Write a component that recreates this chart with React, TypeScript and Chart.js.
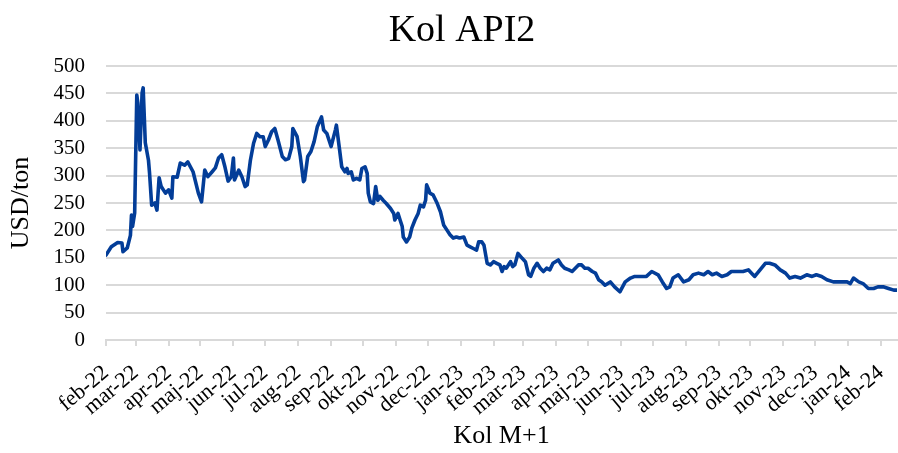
import React, { useEffect, useRef } from "react";
import { Chart, registerables } from "chart.js";

Chart.register(...registerables);

const TITLE = "Kol API2";
const Y_TITLE = "USD/ton";
const X_TITLE = "Kol M+1";

const monthTickDates = [
  "2022-02-01", "2022-03-01", "2022-04-01", "2022-05-01", "2022-06-01", "2022-07-01",
  "2022-08-01", "2022-09-01", "2022-10-01", "2022-11-01", "2022-12-01", "2023-01-01",
  "2023-02-01", "2023-03-01", "2023-04-01", "2023-05-01", "2023-06-01", "2023-07-01",
  "2023-08-01", "2023-09-01", "2023-10-01", "2023-11-01", "2023-12-01", "2024-01-01",
  "2024-02-01",
];
const monthTickLabels = [
  "feb-22", "mar-22", "apr-22", "maj-22", "jun-22", "jul-22", "aug-22", "sep-22",
  "okt-22", "nov-22", "dec-22", "jan-23", "feb-23", "mar-23", "apr-23", "maj-23",
  "jun-23", "jul-23", "aug-23", "sep-23", "okt-23", "nov-23", "dec-23", "jan-24",
  "feb-24",
];
const axisStart = "2022-02-01";
const axisEnd = "2024-02-16";

const dates = [
  "2022-02-01", "2022-02-06", "2022-02-12", "2022-02-16", "2022-02-17", "2022-02-21",
  "2022-02-24", "2022-02-25", "2022-02-26", "2022-02-28", "2022-03-02", "2022-03-03",
  "2022-03-05", "2022-03-07", "2022-03-08", "2022-03-10", "2022-03-13", "2022-03-14",
  "2022-03-16", "2022-03-19", "2022-03-21", "2022-03-23", "2022-03-25", "2022-03-29",
  "2022-04-01", "2022-04-04", "2022-04-05", "2022-04-09", "2022-04-12", "2022-04-16",
  "2022-04-19", "2022-04-24", "2022-04-29", "2022-05-02", "2022-05-05", "2022-05-08",
  "2022-05-12", "2022-05-15", "2022-05-18", "2022-05-21", "2022-05-24", "2022-05-27",
  "2022-05-30", "2022-06-01", "2022-06-02", "2022-06-06", "2022-06-09", "2022-06-12",
  "2022-06-14", "2022-06-17", "2022-06-20", "2022-06-23", "2022-06-26", "2022-06-29",
  "2022-07-01", "2022-07-04", "2022-07-07", "2022-07-10", "2022-07-13", "2022-07-17",
  "2022-07-20", "2022-07-23", "2022-07-26", "2022-07-27", "2022-07-31", "2022-08-03",
  "2022-08-06", "2022-08-07", "2022-08-10", "2022-08-13", "2022-08-16", "2022-08-19",
  "2022-08-23", "2022-08-25", "2022-08-28", "2022-08-30", "2022-09-01", "2022-09-05",
  "2022-09-06", "2022-09-09", "2022-09-11", "2022-09-14", "2022-09-16", "2022-09-17",
  "2022-09-20", "2022-09-22", "2022-09-25", "2022-09-28", "2022-09-30", "2022-10-03",
  "2022-10-05", "2022-10-06", "2022-10-08", "2022-10-11", "2022-10-13", "2022-10-15",
  "2022-10-17", "2022-10-20", "2022-10-23", "2022-10-27", "2022-10-30", "2022-10-31",
  "2022-11-03", "2022-11-05", "2022-11-07", "2022-11-08", "2022-11-11", "2022-11-14",
  "2022-11-16", "2022-11-19", "2022-11-22", "2022-11-24", "2022-11-27", "2022-11-29",
  "2022-11-30", "2022-12-02", "2022-12-03", "2022-12-06", "2022-12-10", "2022-12-13",
  "2022-12-16", "2022-12-19", "2022-12-22", "2022-12-25", "2022-12-28", "2022-12-31",
  "2023-01-04", "2023-01-07", "2023-01-10", "2023-01-13", "2023-01-16", "2023-01-18",
  "2023-01-21", "2023-01-23", "2023-01-26", "2023-01-29", "2023-02-01", "2023-02-04",
  "2023-02-07", "2023-02-09", "2023-02-11", "2023-02-13", "2023-02-17", "2023-02-19",
  "2023-02-21", "2023-02-24", "2023-02-28", "2023-03-03", "2023-03-06", "2023-03-08",
  "2023-03-11", "2023-03-14", "2023-03-17", "2023-03-20", "2023-03-23", "2023-03-26",
  "2023-03-29", "2023-04-03", "2023-04-06", "2023-04-09", "2023-04-13", "2023-04-16",
  "2023-04-19", "2023-04-22", "2023-04-25", "2023-04-28", "2023-05-01", "2023-05-05",
  "2023-05-08", "2023-05-11", "2023-05-14", "2023-05-17", "2023-05-22", "2023-05-26",
  "2023-05-31", "2023-06-05", "2023-06-10", "2023-06-14", "2023-06-19", "2023-06-25",
  "2023-06-30", "2023-07-06", "2023-07-10", "2023-07-14", "2023-07-17", "2023-07-20",
  "2023-07-25", "2023-07-30", "2023-08-04", "2023-08-08", "2023-08-13", "2023-08-18",
  "2023-08-22", "2023-08-26", "2023-08-30", "2023-09-04", "2023-09-09", "2023-09-13",
  "2023-09-20", "2023-09-24", "2023-09-29", "2023-10-02", "2023-10-05", "2023-10-10",
  "2023-10-15", "2023-10-19", "2023-10-24", "2023-10-29", "2023-11-03", "2023-11-07",
  "2023-11-12", "2023-11-17", "2023-11-23", "2023-11-28", "2023-12-02", "2023-12-07",
  "2023-12-12", "2023-12-18", "2023-12-24", "2023-12-31", "2024-01-03", "2024-01-06",
  "2024-01-11", "2024-01-15", "2024-01-20", "2024-01-25", "2024-01-29", "2024-02-03",
  "2024-02-08", "2024-02-13", "2024-02-16",
];

const prices = [
  155, 170, 178, 177, 161, 168,
  191, 228, 207, 232, 447, 432,
  347, 451, 460, 360, 328, 305,
  246, 250, 237, 296, 280, 268,
  274, 259, 298, 297, 323, 319,
  325, 307, 268, 252, 310, 298,
  307, 314, 332, 338, 316, 290,
  298, 332, 292, 310, 298, 280,
  283, 328, 359, 377, 371, 371,
  353, 365, 380, 386, 365, 335,
  329, 331, 353, 386, 371, 335,
  289, 292, 335, 344, 362, 389,
  407, 383, 377, 365, 353, 383,
  392, 347, 316, 307, 313, 304,
  307, 292, 295, 292, 313, 316,
  304, 268, 252, 249, 280, 255,
  262, 255, 249, 240, 231, 219,
  231, 219, 207, 188, 179, 188,
  204, 219, 231, 246, 243, 255,
  283, 274, 268, 265, 249, 234,
  210, 201, 192, 186, 188, 186,
  188, 173, 170, 167, 164, 179,
  179, 173, 140, 137, 143, 140,
  137, 125, 134, 131, 143, 134,
  137, 158, 149, 143, 119, 116,
  131, 140, 131, 125, 131, 128,
  140, 146, 137, 131, 128, 125,
  131, 137, 137, 131, 131, 125,
  122, 110, 106, 100, 106, 97,
  88, 106, 113, 116, 116, 116,
  125, 119, 106, 94, 97, 113,
  119, 106, 110, 119, 122, 119,
  125, 119, 122, 116, 119, 125,
  125, 125, 128, 122, 116, 128,
  140, 140, 137, 128, 122, 113,
  116, 113, 119, 116, 119, 116,
  110, 106, 106, 106, 103, 113,
  106, 103, 94, 94, 97, 97,
  94, 91, 91,
];

const yMin = 0;
const yMax = 500;
const yStep = 50;

const toDay = (s: string) => {
  const [y, m, d] = s.split("-").map(Number);
  return Date.UTC(y, m - 1, d) / 86400000;
};
const base = toDay(axisStart);
const dayIndex = (s: string) => toDay(s) - base;

const FONT = '"Liberation Serif", "Times New Roman", serif';

const titlePlugin = {
  id: "offsetTitle",
  afterDraw(chart: any) {
    const ctx = chart.ctx;
    ctx.save();
    ctx.font = `38px ${FONT}`;
    ctx.fillStyle = "#000";
    ctx.textAlign = "center";
    ctx.textBaseline = "middle";
    ctx.fillText(TITLE, chart.width / 2 + 13, 31);
    ctx.restore();
  },
};

export default function App() {
  const ref = useRef<HTMLCanvasElement | null>(null);

  useEffect(() => {
    if (!ref.current) return;
    const tickValues = monthTickDates.map(dayIndex);
    const labelFor = new Map<number, string>();
    tickValues.forEach((v, i) => labelFor.set(v, monthTickLabels[i]));

    const chart = new Chart(ref.current, {
      type: "line",
      data: {
        datasets: [
          {
            label: X_TITLE,
            data: dates.map((d, i) => ({ x: dayIndex(d), y: prices[i] })),
            borderColor: "#033d98",
            borderWidth: 3.6,
            pointRadius: 0,
            tension: 0,
            borderJoinStyle: "round",
            borderCapStyle: "round",
          },
        ],
      },
      options: {
        animation: false,
        responsive: false,
        layout: { padding: { top: 66, right: 1, left: 0, bottom: 0 } },
        plugins: {
          legend: { display: false },
          tooltip: { enabled: false },
          title: { display: false },
        },
        scales: {
          x: {
            type: "linear",
            min: 0,
            max: dayIndex(axisEnd),
            afterBuildTicks: (scale: any) => {
              scale.ticks = tickValues.map((v) => ({ value: v }));
            },
            afterFit: (scale: any) => {
              scale.height = 113;
              scale.paddingLeft = 0;
              scale.paddingRight = 0;
            },
            ticks: {
              autoSkip: false,
              minRotation: 40,
              maxRotation: 40,
              padding: 14,
              color: "#000",
              font: { family: FONT, size: 22 },
              callback: (v: any) => labelFor.get(Number(v)) ?? "",
            },
            grid: {
              drawOnChartArea: false,
              drawTicks: true,
              tickLength: 6,
              color: "#d9d9d9",
              lineWidth: 2,
            },
            border: { display: true, color: "#d9d9d9", width: 2 },
            title: {
              display: true,
              text: X_TITLE,
              color: "#000",
              font: { family: FONT, size: 26 },
              padding: 1,
            },
          },
          y: {
            min: yMin,
            max: yMax,
            afterFit: (scale: any) => {
              scale.width = 106;
            },
            ticks: {
              stepSize: yStep,
              autoSkip: false,
              padding: 21,
              color: "#000",
              font: { family: FONT, size: 21 },
            },
            grid: {
              color: "#d9d9d9",
              lineWidth: 2,
              drawTicks: false,
            },
            border: { display: false },
            title: {
              display: true,
              text: Y_TITLE,
              color: "#000",
              font: { family: FONT, size: 26 },
              padding: 6,
            },
          },
        },
      },
      plugins: [titlePlugin],
    } as any);

    return () => chart.destroy();
  }, []);

  return (
    <div style={{ position: "fixed", left: 0, top: 0, width: 898, height: 453, background: "#fff" }}>
      <canvas ref={ref} width={898} height={453} style={{ display: "block" }} />
    </div>
  );
}
